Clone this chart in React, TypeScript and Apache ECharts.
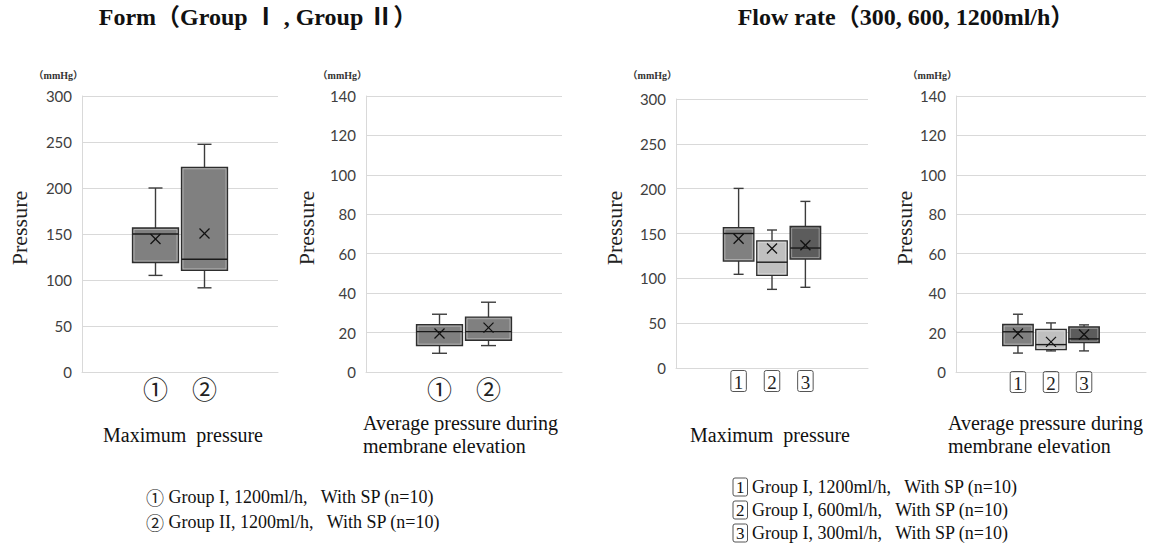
import React, { useEffect, useRef } from "react";
import * as echarts from "echarts";

// ---------- data ----------
const formLabels = ["①", "②"];
const flowLabels = ["1", "2", "3"];

// [low whisker, Q1, median, Q3, high whisker]
const formMaxBoxes = [
  [105, 119, 150, 156.5, 200],
  [91.5, 110.5, 122.5, 222.5, 247.5],
];
const formMaxMeans = [144.5, 150.5];

const formAvgBoxes = [
  [9.5, 13.4, 20.5, 24, 29.3],
  [13.4, 16.1, 20.5, 27.8, 35.4],
];
const formAvgMeans = [19.5, 22.5];

const flowMaxBoxes = [
  [104.5, 119.3, 150, 156.5, 200.3],
  [87.7, 103.3, 118, 141.8, 153.9],
  [90, 121.5, 133.8, 157.8, 185.8],
];
const flowMaxMeans = [144.2, 133.2, 136.9];

const flowAvgBoxes = [
  [9.6, 13.4, 20.4, 24.1, 29.3],
  [10.7, 11.4, 13.9, 21.6, 24.9],
  [10.7, 14.9, 16.8, 22.9, 23.9],
];
const flowAvgMeans = [19.5, 15.3, 19.0];

const formLegendMarks = ["①", "②"];
const formLegend = [
  " Group I, 1200ml/h,   With SP (n=10)",
  " Group II, 1200ml/h,   With SP (n=10)",
];
const flowLegendDigits = ["1", "2", "3"];
const flowLegend = [
  " Group I, 1200ml/h,   With SP (n=10)",
  " Group I, 600ml/h,   With SP (n=10)",
  " Group I, 300ml/h,   With SP (n=10)",
];

const titleForm = "Form（Group Ⅰ , Group Ⅱ）";
const titleFlow = "Flow rate（300, 600, 1200ml/h）";
const yName = "Pressure";
const unitLabel = "（mmHg）";
const captionMax = "Maximum  pressure";
const captionAvg = "Average pressure during\nmembrane elevation";

// ---------- styles / layout ----------
const formFills = ["#808080", "#808080"];
const flowFills = ["#808080", "#c0c0c0", "#5c5c5c"];
const SERIF = "'Liberation Serif', 'Noto Sans CJK JP', serif";
const CJK = "'Noto Sans CJK JP', 'DejaVu Sans', sans-serif";
const SANS = "Lato, 'Liberation Sans', sans-serif";

const panels = [
  { left: 82, top: 96, width: 196, height: 276, yMax: 300, yStep: 50, slots: 4, slotAt: [1, 2],
    labels: formLabels, boxes: formMaxBoxes, means: formMaxMeans, fills: formFills,
    boxW: 46, capW: 14, boxed: false, labelMargin: 4, pressureX: 19 },
  { left: 366, top: 96, width: 196, height: 276, yMax: 140, yStep: 20, slots: 4, slotAt: [1, 2],
    labels: formLabels, boxes: formAvgBoxes, means: formAvgMeans, fills: formFills,
    boxW: 46, capW: 15, boxed: false, labelMargin: 4, pressureX: 306 },
  { left: 676, top: 99, width: 192, height: 269, yMax: 300, yStep: 50, slots: 23, slotAt: [7, 11, 15],
    labels: flowLabels, boxes: flowMaxBoxes, means: flowMaxMeans, fills: flowFills,
    boxW: 30.5, capW: 10, boxed: true, labelMargin: 4, pressureX: 614 },
  { left: 956, top: 96, width: 190, height: 276, yMax: 140, yStep: 20, slots: 23, slotAt: [7, 11, 15],
    labels: flowLabels, boxes: flowAvgBoxes, means: flowAvgMeans, fills: flowFills,
    boxW: 30.5, capW: 10, boxed: true, labelMargin: 1, pressureX: 904 },
];

const boxedRich = {
  b: {
    fontFamily: SERIF,
    fontSize: 19,
    color: "#222",
    borderColor: "#555",
    borderWidth: 1,
    borderRadius: 2,
    padding: [2, 3, 0, 3],
    lineHeight: 18,
  },
  c: {
    fontFamily: CJK,
    fontSize: 25,
    color: "#222",
    lineHeight: 24,
  },
};

function buildOption() {
  const grid: any[] = [];
  const xAxis: any[] = [];
  const yAxis: any[] = [];
  const series: any[] = [];
  const graphic: any[] = [];

  panels.forEach((p, pi) => {
    grid.push({ left: p.left, top: p.top, width: p.width, height: p.height, containLabel: false });
    const cats = Array.from({ length: p.slots }, (_, i) => "s" + i);
    const labelFor = (idx: number) => {
      const k = p.slotAt.indexOf(idx);
      if (k < 0) return "";
      return p.boxed ? "{b|" + p.labels[k] + "}" : "{c|" + p.labels[k] + "}";
    };
    xAxis.push({
      type: "category",
      gridIndex: pi,
      data: cats,
      boundaryGap: true,
      axisLine: { show: true, lineStyle: { color: "#d9d9d9", width: 1 } },
      axisTick: { show: false },
      splitLine: { show: false },
      axisLabel: {
        interval: 0,
        margin: p.labelMargin,
        formatter: (_v: string, idx: number) => labelFor(idx),
        fontFamily: SERIF,
        fontSize: 20,
        color: "#222",
        rich: boxedRich,
      },
    });
    yAxis.push({
      type: "value",
      gridIndex: pi,
      min: 0,
      max: p.yMax,
      interval: p.yStep,
      axisLine: { show: true, lineStyle: { color: "#d9d9d9", width: 1 } },
      axisTick: { show: false },
      splitLine: { show: true, lineStyle: { color: "#d9d9d9", width: 1 } },
      axisLabel: { fontFamily: SANS, fontSize: 15, color: "#404040", margin: 10 },
    });

    const data = p.boxes.map((b, i) => [p.slotAt[i], b[0], b[1], b[2], b[3], b[4], p.means[i]]);
    const boxW = p.boxW;
    const capW = p.capW;
    const fills = p.fills;
    series.push({
      type: "custom",
      xAxisIndex: pi,
      yAxisIndex: pi,
      encode: { x: 0, y: [1, 2, 3, 4, 5, 6] },
      data,
      renderItem: (params: any, api: any) => {
        const x = api.value(0);
        const lo = api.coord([x, api.value(1)]);
        const q1 = api.coord([x, api.value(2)]);
        const md = api.coord([x, api.value(3)]);
        const q3 = api.coord([x, api.value(4)]);
        const hi = api.coord([x, api.value(5)]);
        const mn = api.coord([x, api.value(6)]);
        const cx = lo[0];
        const hw = boxW / 2;
        const cw = capW / 2;
        const wStyle = { stroke: "#3c3c3c", lineWidth: 1.4 };
        const xs = 5;
        return {
          type: "group",
          children: [
            { type: "line", shape: { x1: cx, y1: hi[1], x2: cx, y2: q3[1] }, style: wStyle },
            { type: "line", shape: { x1: cx, y1: q1[1], x2: cx, y2: lo[1] }, style: wStyle },
            { type: "line", shape: { x1: cx - cw, y1: hi[1], x2: cx + cw, y2: hi[1] }, style: wStyle },
            { type: "line", shape: { x1: cx - cw, y1: lo[1], x2: cx + cw, y2: lo[1] }, style: wStyle },
            {
              type: "rect",
              shape: { x: cx - hw, y: q3[1], width: boxW, height: q1[1] - q3[1] },
              style: { fill: fills[params.dataIndex], stroke: "#2e2e2e", lineWidth: 1.3 },
            },
            {
              type: "rect",
              shape: { x: cx - hw + 1.5, y: q3[1] + 1.5, width: boxW - 3, height: Math.max(0, q1[1] - q3[1] - 3) },
              style: { fill: "none", stroke: "rgba(255,255,255,0.35)", lineWidth: 1 },
            },
            { type: "line", shape: { x1: cx - hw, y1: md[1], x2: cx + hw, y2: md[1] }, style: { stroke: "#1a1a1a", lineWidth: 1.4 } },
            { type: "line", shape: { x1: cx - xs, y1: mn[1] - xs, x2: cx + xs, y2: mn[1] + xs }, style: { stroke: "#111", lineWidth: 1.3 } },
            { type: "line", shape: { x1: cx - xs, y1: mn[1] + xs, x2: cx + xs, y2: mn[1] - xs }, style: { stroke: "#111", lineWidth: 1.3 } },
          ],
        };
      },
      z: 5,
    });

    graphic.push({
      type: "text",
      x: p.left + 1,
      y: 75,
      style: {
        text: unitLabel,
        fontFamily: SERIF,
        fontSize: 10,
        fontWeight: "bold",
        fill: "#333",
        align: "right",
        textAlign: "right",
        verticalAlign: "middle",
        textVerticalAlign: "middle",
      },
    });
    graphic.push({
      type: "text",
      x: p.pressureX,
      y: 228,
      rotation: Math.PI / 2,
      style: {
        text: yName,
        fontFamily: SERIF,
        fontSize: 22,
        fill: "#222",
        align: "center",
        textAlign: "center",
        verticalAlign: "middle",
        textVerticalAlign: "middle",
      },
    });
  });

  const txt = (text: string, x: number, y: number, size: number, align: string, extra: any = {}) => ({
    type: "text",
    x,
    y,
    style: {
      text,
      fontFamily: SERIF,
      fontSize: size,
      fill: "#111",
      align,
      textAlign: align,
      verticalAlign: "middle",
      textVerticalAlign: "middle",
      ...extra,
    },
  });

  graphic.push(txt(titleForm, 258, 17, 24, "center", { fontWeight: "bold" }));
  graphic.push(txt(titleFlow, 906, 17, 24, "center", { fontWeight: "bold" }));
  graphic.push(txt(captionMax, 183, 435, 20, "center"));
  graphic.push(txt(captionMax, 770, 435, 20, "center"));
  graphic.push(txt(captionAvg, 363, 434, 20, "left", { lineHeight: 23 }));
  graphic.push(txt(captionAvg, 948, 434, 20, "left", { lineHeight: 23 }));
  formLegend.forEach((line, i) => {
    // circled mark and label text drawn as separate texts
    graphic.push(
      txt(formLegendMarks[i], 146, 497 + i * 25, 18, "left", { fontFamily: CJK, fill: "#222", lineHeight: 18 })
    );
    graphic.push(txt(line, 164, 497 + i * 25, 18, "left", { lineHeight: 18 }));
  });
  flowLegend.forEach((line, i) => {
    graphic.push(
      txt("{b|" + flowLegendDigits[i] + "}" + line, 733, 487 + i * 23, 18, "left", {
        lineHeight: 17,
        rich: {
          b: { ...boxedRich.b, fontSize: 17, lineHeight: 16, padding: [1, 3, 0, 3] },
        },
      })
    );
  });

  return {
    animation: false,
    backgroundColor: "#ffffff",
    grid,
    xAxis,
    yAxis,
    series,
    graphic,
  };
}

export default function App() {
  const ref = useRef<HTMLDivElement>(null);
  useEffect(() => {
    document.body.style.margin = "0";
    if (!ref.current) return;
    const chart = echarts.init(ref.current, undefined, { renderer: "svg" });
    chart.setOption(buildOption() as any);
    return () => chart.dispose();
  }, []);
  return <div ref={ref} style={{ width: 1151, height: 544, background: "#fff" }} />;
}
